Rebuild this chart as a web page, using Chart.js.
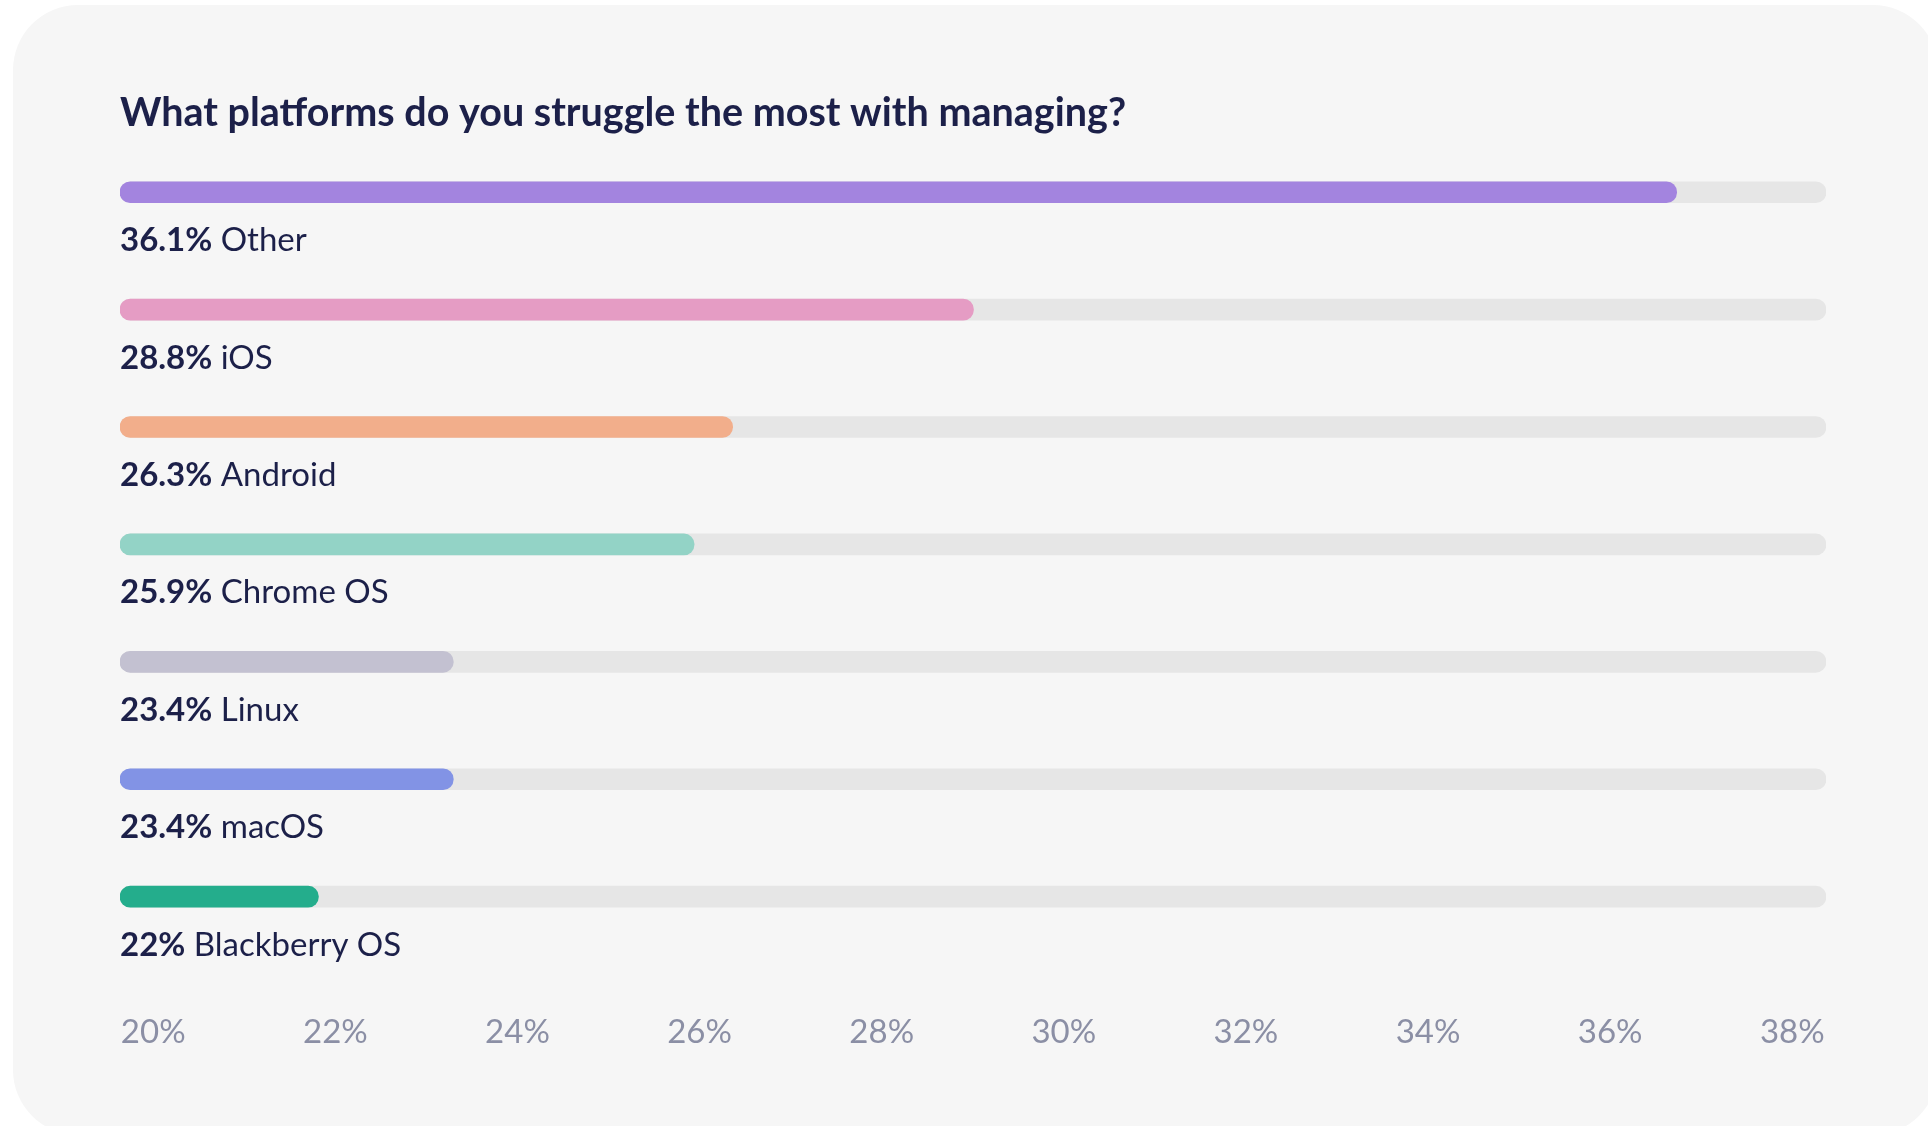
<!DOCTYPE html>
<html>
<head>
<meta charset="utf-8">
<script src="https://cdn.jsdelivr.net/npm/chart.js@4.4.1/dist/chart.umd.min.js"></script>
<style>
  html, body { margin: 0; padding: 0; background: #ffffff; overflow: hidden; }
  #card { position: absolute; left: 13px; top: 5px; width: 1925px; height: 1130px; border-radius: 65px; background: #f6f6f6; }
  #c { position: absolute; left: 0; top: 0; }
</style>
</head>
<body>
<div id="card"></div>
<canvas id="c" width="1928" height="1126"></canvas>
<script>
// ---- data ----
const TITLE = 'What platforms do you struggle the most with managing?';
const CATEGORIES = ['Other', 'iOS', 'Android', 'Chrome OS', 'Linux', 'macOS', 'Blackberry OS'];
const VALUES = [36.1, 28.8, 26.3, 25.9, 23.4, 23.4, 22];
const TICK_VALUES = [20, 22, 24, 26, 28, 30, 32, 34, 36, 38];

// ---- styles ----
const BAR_COLORS = ['#a384df', '#e59cc4', '#f2ae8b', '#93d3c6', '#c3c1d1', '#8293e5', '#24ad8c'];
const TRACK_COLOR = '#e6e6e6';
const NAVY = '#1c2049';
const TICK_COLOR = '#8b8fa5';
const FONT = 'Lato';

// bar scale range (as drawn in the reference) and tick-label scale range
const BAR_MIN = 19.94, BAR_MAX = 37.65;
const TICK_MIN = 19.635, TICK_MAX = 38.37;

const labelPlugin = {
  id: 'barLabels',
  afterDatasetsDraw(chart) {
    const meta = chart.getDatasetMeta(0);
    const ctx = chart.ctx;
    ctx.save();
    ctx.textBaseline = 'alphabetic';
    ctx.textAlign = 'left';
    meta.data.forEach((bar, i) => {
      const x = chart.chartArea.left;
      const y = bar.y + 59;
      const valueText = VALUES[i] + '%';
      ctx.fillStyle = NAVY;
      ctx.font = 'bold 33px ' + FONT;
      ctx.fillText(valueText, x, y);
      const w = ctx.measureText(valueText).width;
      ctx.font = '33px ' + FONT;
      const sp = ctx.measureText(' ').width;
      ctx.fillText(CATEGORIES[i], x + w + sp, y);
    });
    ctx.restore();
  }
};

const barCommon = {
  barThickness: 21,
  borderRadius: 11,
  borderSkipped: false,
  grouped: false,
  base: BAR_MIN,
  xAxisID: 'x'
};

new Chart(document.getElementById('c'), {
  type: 'bar',
  data: {
    labels: CATEGORIES,
    datasets: [
      Object.assign({ data: VALUES, backgroundColor: BAR_COLORS }, barCommon),
      Object.assign({ data: CATEGORIES.map(() => BAR_MAX), backgroundColor: TRACK_COLOR }, barCommon)
    ]
  },
  options: {
    indexAxis: 'y',
    responsive: false,
    animation: false,
    devicePixelRatio: 1,
    layout: { padding: { left: 120, right: 102, top: 94, bottom: 25 } },
    plugins: {
      legend: { display: false },
      tooltip: { enabled: false },
      title: {
        display: true,
        text: TITLE,
        align: 'start',
        color: NAVY,
        font: { family: FONT, size: 39.5, weight: 'bold', lineHeight: 1 },
        padding: { top: 0, bottom: 0 }
      }
    },
    scales: {
      x: { type: 'linear', min: BAR_MIN, max: BAR_MAX, display: false },
      x2: {
        type: 'linear',
        position: 'bottom',
        min: TICK_MIN,
        max: TICK_MAX,
        afterBuildTicks: (scale) => { scale.ticks = TICK_VALUES.map(v => ({ value: v })); },
        grid: { display: false },
        border: { display: false },
        ticks: {
          padding: 49,
          color: TICK_COLOR,
          font: { family: FONT, size: 33 },
          maxRotation: 0,
          autoSkip: false,
          callback: (v) => v + '%'
        }
      },
      y: { display: false }
    }
  },
  plugins: [labelPlugin]
});
</script>
</body>
</html>
